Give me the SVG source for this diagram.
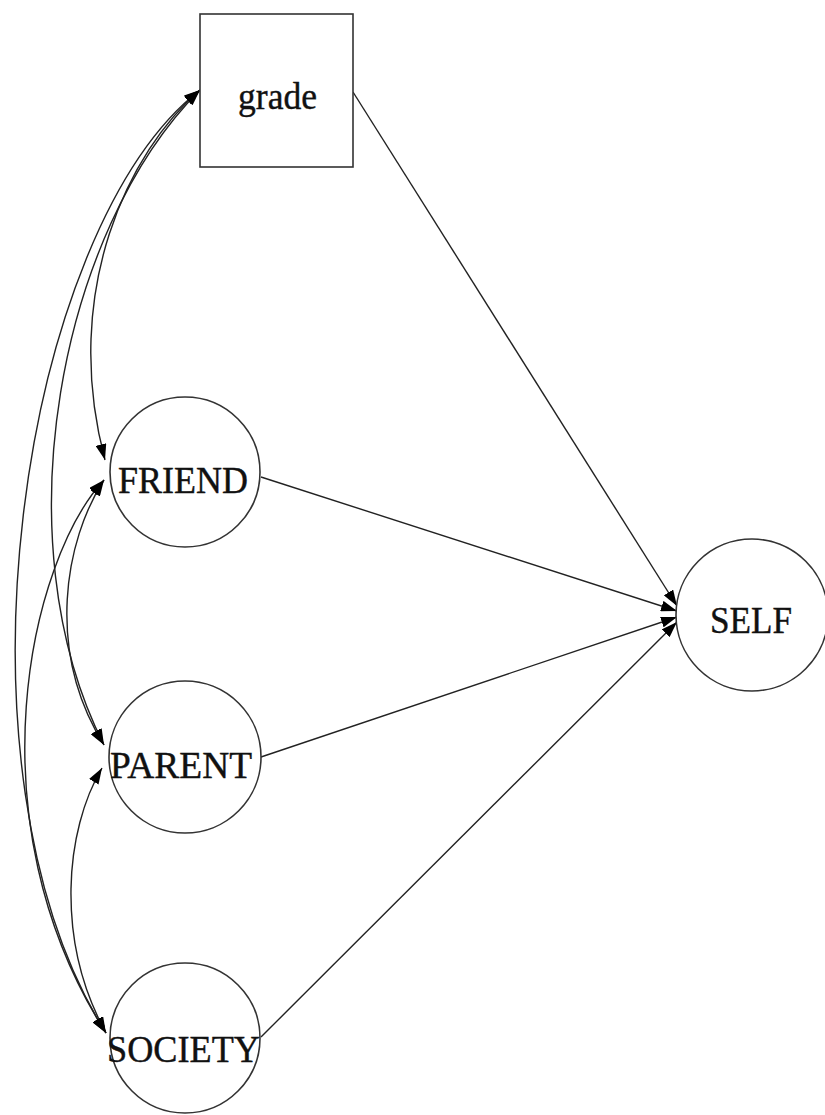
<svg xmlns="http://www.w3.org/2000/svg" width="825" height="1115" viewBox="0 0 825 1115">
<style>
.shape{fill:#fff;stroke:#333;stroke-width:1.6}
.lbl{font-family:"Liberation Serif","Times New Roman",serif;font-size:38px;fill:#111;stroke:#111;stroke-width:0.4}
.edge{fill:none;stroke:#222;stroke-width:1.4}
</style>
<defs>
<marker id="ah" markerUnits="userSpaceOnUse" viewBox="0 0 16 11" refX="16" refY="5.5" markerWidth="16" markerHeight="11" orient="auto-start-reverse">
<path d="M0,0 L16,5.5 L0,11 z" fill="#000"/>
</marker>
</defs>
<rect width="825" height="1115" fill="#fff"/>
<g id="connectors">
<line class="edge" x1="353" y1="92" x2="677" y2="606" marker-end="url(#ah)"/>
<line class="edge" x1="261" y1="477" x2="677" y2="611" marker-end="url(#ah)"/>
<line class="edge" x1="261" y1="757" x2="677" y2="617" marker-end="url(#ah)"/>
<line class="edge" x1="261" y1="1037" x2="677" y2="622" marker-end="url(#ah)"/>
<path class="edge" d="M200,90 C130,150 60,290 105,460" marker-start="url(#ah)" marker-end="url(#ah)"/>
<path class="edge" d="M200,90 C60,230 0,540 104,745" marker-start="url(#ah)" marker-end="url(#ah)"/>
<path class="edge" d="M200,90 C20,230 -60,770 106,1033" marker-start="url(#ah)" marker-end="url(#ah)"/>
<path class="edge" d="M104,480 C65,540 45,650 104,745" marker-start="url(#ah)" marker-end="url(#ah)"/>
<path class="edge" d="M104,480 C30,560 -30,820 106,1033" marker-start="url(#ah)" marker-end="url(#ah)"/>
<path class="edge" d="M102,768 C65,830 55,940 106,1033" marker-start="url(#ah)" marker-end="url(#ah)"/>
</g>
<g id="grade">
<rect class="shape" x="200" y="14" width="153" height="153"/>
<text class="lbl" x="238" y="109" textLength="79" lengthAdjust="spacingAndGlyphs" style="font-size:37px">grade</text>
</g>
<g id="friend">
<circle class="shape" cx="185" cy="472" r="75"/>
<text class="lbl" x="118" y="493" textLength="130" lengthAdjust="spacingAndGlyphs">FRIEND</text>
</g>
<g id="parent">
<circle class="shape" cx="185" cy="757" r="76"/>
<text class="lbl" x="110" y="778" textLength="142" lengthAdjust="spacingAndGlyphs">PARENT</text>
</g>
<g id="society">
<circle class="shape" cx="185" cy="1038" r="75"/>
<text class="lbl" x="107" y="1062" textLength="153" lengthAdjust="spacingAndGlyphs">SOCIETY</text>
</g>
<g id="self">
<circle class="shape" cx="752" cy="615" r="76"/>
<text class="lbl" x="710" y="633" textLength="82" lengthAdjust="spacingAndGlyphs">SELF</text>
</g>
</svg>
